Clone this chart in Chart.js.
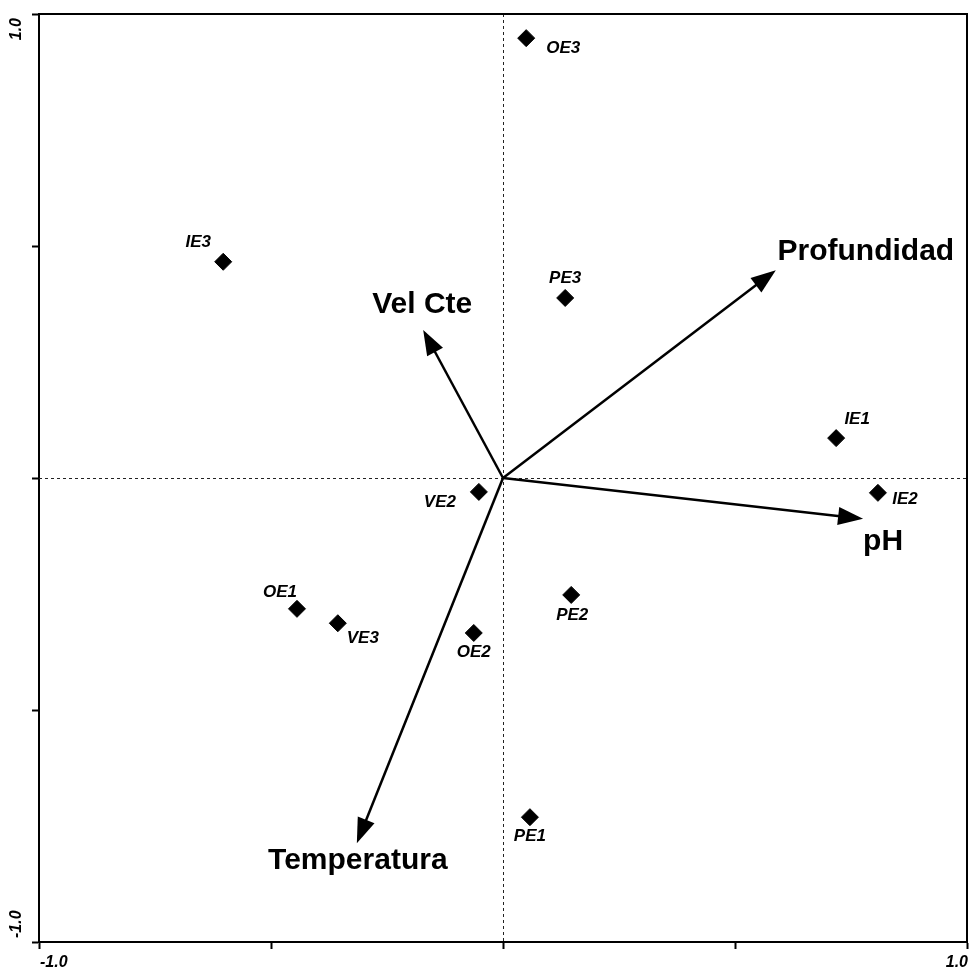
<!DOCTYPE html>
<html>
<head>
<meta charset="utf-8">
<script src="https://cdn.jsdelivr.net/npm/chart.js@4"></script>
<style>
    html, body { margin: 0; padding: 0; background: #fff; }
    canvas { display: block; }
</style>
</head>
<body>
<canvas id="chart" width="969" height="971"></canvas>
<script>
// sample scores
const sampleNames = ['OE3', 'IE3', 'PE3', 'IE1', 'IE2', 'VE2', 'OE1', 'VE3', 'OE2', 'PE2', 'PE1'];
const sampleX = [0.050, -0.603, 0.134, 0.718, 0.808, -0.052, -0.444, -0.356, -0.063, 0.147, 0.058];
const sampleY = [0.948, 0.466, 0.388, 0.086, -0.032, -0.030, -0.282, -0.313, -0.334, -0.252, -0.731];

// environmental variables (arrow tips)
const envNames = ['Profundidad', 'Vel Cte', 'pH', 'Temperatura'];
const envX = [0.588, -0.172, 0.776, -0.315];
const envY = [0.448, 0.319, -0.088, -0.787];

// axis ticks
const tickValues = [-1, -0.5, 0, 0.5, 1];
const tickLabels = ['-1.0', '', '', '', '1.0'];

// label placement, pixels from the mark
const sampleLabelOffset = [[37, 10], [-25, -19], [0, -20], [21, -19], [27, 6], [-39, 10],
    [-17, -17], [25, 15], [0, 19], [1, 20], [0, 19]];
const envLabelOffset = [[90, -18], [-1, -25], [20, 23], [1, 18]];

const FONT = '"Liberation Sans", Arial, sans-serif';

const biplot = {
    id: 'biplot',
    beforeDatasetsDraw(chart) {
        const {ctx, chartArea: a, scales: {x, y}} = chart;
        const x0 = x.getPixelForValue(0);
        const y0 = y.getPixelForValue(0);
        ctx.save();
        // dotted zero lines
        ctx.strokeStyle = '#222';
        ctx.lineWidth = 1;
        ctx.setLineDash([3, 3]);
        ctx.beginPath();
        ctx.moveTo(Math.round(x0) + 0.5, a.top);
        ctx.lineTo(Math.round(x0) + 0.5, a.bottom);
        ctx.moveTo(a.left, Math.round(y0) + 0.5);
        ctx.lineTo(a.right, Math.round(y0) + 0.5);
        ctx.stroke();
        ctx.setLineDash([]);

        // top and right frame
        ctx.strokeStyle = '#000';
        ctx.lineWidth = 2;
        ctx.beginPath();
        ctx.moveTo(a.left, a.top);
        ctx.lineTo(a.right, a.top);
        ctx.lineTo(a.right, a.bottom);
        ctx.stroke();

        // arrows
        envX.forEach((vx, i) => {
            const tx = x.getPixelForValue(vx);
            const ty = y.getPixelForValue(envY[i]);
            const ang = Math.atan2(ty - y0, tx - x0);
            const headLen = 25, headW = 9;
            const bx = tx - Math.cos(ang) * headLen;
            const by = ty - Math.sin(ang) * headLen;
            ctx.lineWidth = 2.5;
            ctx.beginPath();
            ctx.moveTo(x0, y0);
            ctx.lineTo(bx + Math.cos(ang) * 4, by + Math.sin(ang) * 4);
            ctx.stroke();
            ctx.beginPath();
            ctx.moveTo(tx, ty);
            ctx.lineTo(bx - Math.sin(ang) * headW, by + Math.cos(ang) * headW);
            ctx.lineTo(bx + Math.sin(ang) * headW, by - Math.cos(ang) * headW);
            ctx.closePath();
            ctx.fillStyle = '#000';
            ctx.fill();

            ctx.font = 'bold 30px ' + FONT;
            ctx.textAlign = 'center';
            ctx.textBaseline = 'middle';
            ctx.fillText(envNames[i], tx + envLabelOffset[i][0], ty + envLabelOffset[i][1]);
        });
        ctx.restore();
    },
    afterDatasetsDraw(chart) {
        const {ctx, scales: {x, y}} = chart;
        ctx.save();
        ctx.fillStyle = '#000';
        ctx.font = 'italic bold 17px ' + FONT;
        ctx.textAlign = 'center';
        ctx.textBaseline = 'middle';
        sampleNames.forEach((name, i) => {
            const px = x.getPixelForValue(sampleX[i]);
            const py = y.getPixelForValue(sampleY[i]);
            ctx.fillText(name, px + sampleLabelOffset[i][0], py + sampleLabelOffset[i][1]);
        });

        // tick labels, only the ends carry text
        ctx.font = 'italic bold 16px ' + FONT;
        tickValues.forEach((v, i) => {
            if (!tickLabels[i]) return;
            const px = x.getPixelForValue(v);
            ctx.textAlign = v < 0 ? 'left' : 'right';
            ctx.fillText(tickLabels[i], px + 1, 963);

            const py = y.getPixelForValue(v);
            ctx.save();
            ctx.translate(17, v < 0 ? py - 4 : py + 4);
            ctx.rotate(-Math.PI / 2);
            ctx.textAlign = v < 0 ? 'left' : 'right';
            ctx.fillText(tickLabels[i], 0, 0);
            ctx.restore();
        });
        ctx.restore();
    }
};

const axis = (fit) => ({
    type: 'linear',
    min: -1,
    max: 1,
    afterBuildTicks: s => { s.ticks = tickValues.map(v => ({value: v})); },
    afterFit: fit,
    ticks: {display: false},
    grid: {drawOnChartArea: false, tickLength: 7, tickWidth: 2, tickColor: '#000'},
    border: {color: '#000', width: 2}
});

new Chart(document.getElementById('chart'), {
    type: 'scatter',
    data: {
        datasets: [{
            data: sampleX.map((v, i) => ({x: v, y: sampleY[i]})),
            pointStyle: 'rectRot',
            pointRadius: 8.5,
            backgroundColor: '#000',
            borderColor: '#000',
            borderWidth: 1,
            clip: false
        }]
    },
    options: {
        responsive: false,
        animation: false,
        events: [],
        layout: {autoPadding: false, padding: {top: 14, right: 2, left: 0, bottom: 0}},
        plugins: {legend: {display: false}, tooltip: {enabled: false}},
        scales: {
            x: axis(s => { s.height = 29; s.paddingLeft = 0; s.paddingRight = 0; }),
            y: axis(s => { s.width = 39; s.paddingTop = 0; s.paddingBottom = 0; })
        }
    },
    plugins: [biplot]
});
</script>
</body>
</html>
